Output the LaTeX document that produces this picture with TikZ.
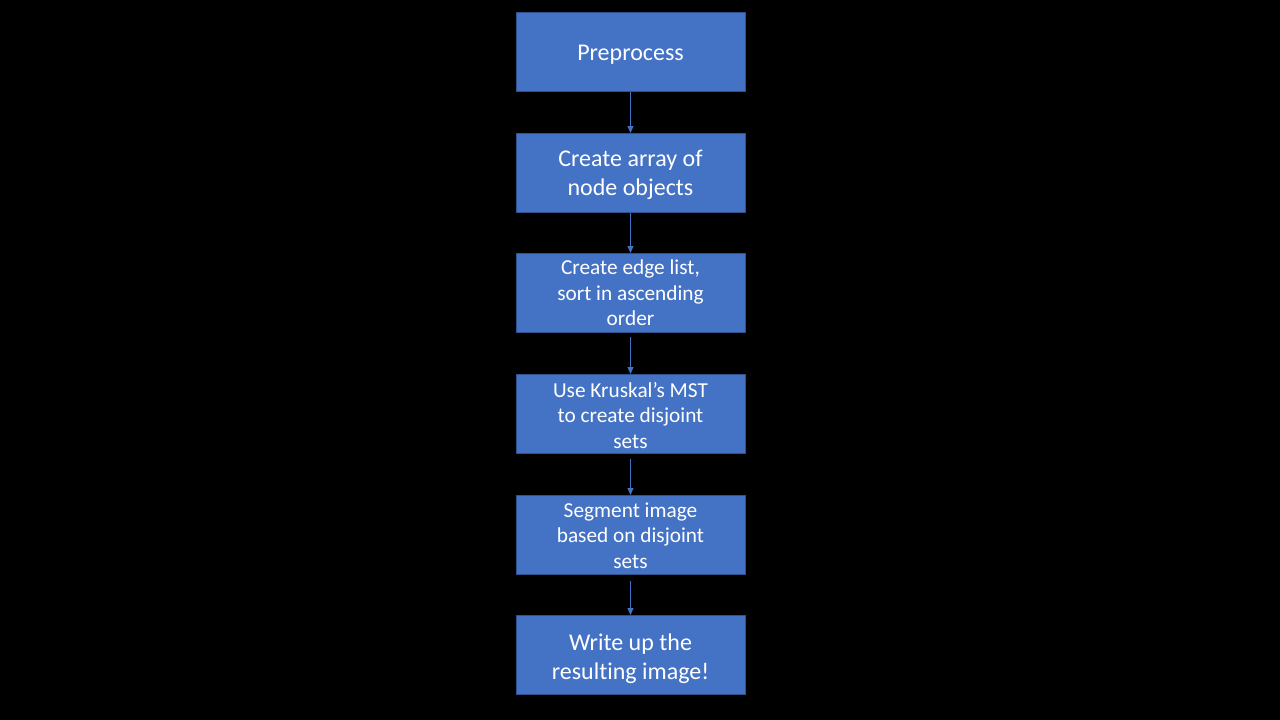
\documentclass[tikz,border=0pt]{standalone}
\usepackage{fontspec}
\setmainfont{Carlito}[Ligatures=NoCommon]
\usetikzlibrary{arrows.meta}
\definecolor{boxfill}{HTML}{4472C4}
\definecolor{boxline}{HTML}{2F528F}
\newcommand\lwr[2]{\raisebox{-#1pt}[\height][\depth]{\begin{tabular}{@{}c@{}}#2\end{tabular}}}
\begin{document}
\begin{tikzpicture}[x=1pt,y=-1pt,
  stepbox/.style={draw=boxline,line width=1pt,fill=boxfill,minimum width=229pt,minimum height=79pt,
    inner sep=0pt,text=white,align=center,anchor=north},
  bigtxt/.style={font=\fontsize{24}{29}\selectfont},
  smalltxt/.style={font=\fontsize{21.3}{25.5}\selectfont},
  conn/.style={draw=boxfill,line width=1pt,-{Triangle[width=6pt,length=7pt]}}]
\fill[black] (0,0) rectangle (1280,720);
\useasboundingbox (0,0) rectangle (1280,720);
\node[stepbox,bigtxt] (p) at (630.5,12) {\lwr{3}{Preprocess}};
\node[stepbox,bigtxt] (a) at (630.5,133) {\lwr{2}{Create array of\\node objects}};
\node[stepbox,smalltxt] (e) at (630.5,253) {\lwr{2}{Create edge list,\\sort in ascending\\order}};
\node[stepbox,smalltxt] (k) at (630.5,374) {\lwr{3.5}{Use Kruskal’s MST\\to create disjoint\\sets}};
\node[stepbox,smalltxt] (s) at (630.5,495) {\lwr{2.5}{Segment image\\based on disjoint\\sets}};
\node[stepbox,bigtxt] (w) at (630.5,615) {\lwr{4}{Write up the\\resulting image!}};
\draw[conn] (p.south) -- (a.north);
\draw[conn] (a.south) -- (e.north);
\draw[conn,shorten <=4pt] (e.south) -- (k.north);
\draw[conn,shorten <=5pt] (k.south) -- (s.north);
\draw[conn,shorten <=6pt] (s.south) -- (w.north);
\end{tikzpicture}
\end{document}
